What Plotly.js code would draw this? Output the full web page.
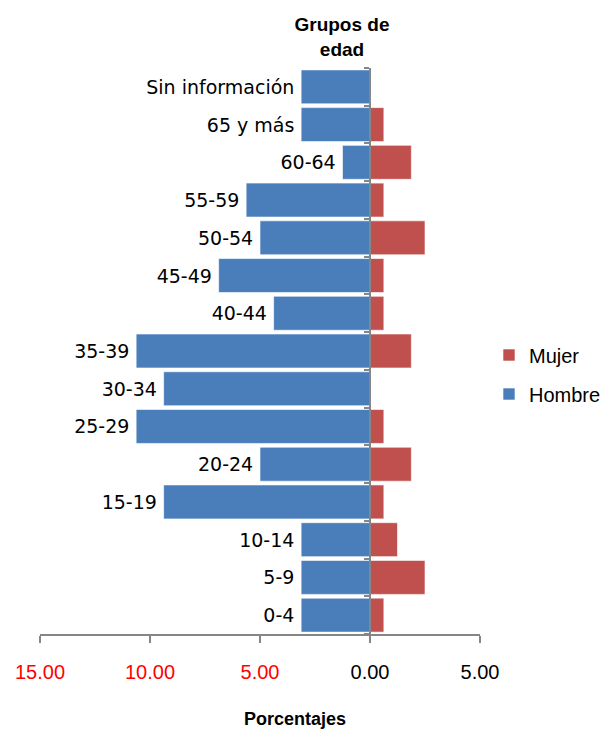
<!DOCTYPE html>
<html>
<head>
<meta charset="utf-8">
<script src="https://cdn.plot.ly/plotly-3.0.1.min.js"></script>
<style>
  html, body { margin: 0; padding: 0; background: #ffffff; }
  #chart { width: 604px; height: 730px; }
</style>
</head>
<body>
<div id="chart"></div>
<script>
// Age groups, bottom to top
const categories = ['0-4', '5-9', '10-14', '15-19', '20-24', '25-29', '30-34', '35-39',
                    '40-44', '45-49', '50-54', '55-59', '60-64', '65 y más', 'Sin información'];
// Percent of total (Hombre drawn to the left)
const hombre = [3.13, 3.13, 3.13, 9.38, 5.00, 10.63, 9.38, 10.63, 4.38, 6.88, 5.00, 5.63, 1.25, 3.13, 3.13];
const mujer  = [0.63, 2.50, 1.25, 0.63, 1.88, 0.63, 0.00, 1.88, 0.63, 0.63, 2.50, 0.63, 1.88, 0.63, 0.00];
const xTickVals = [-15, -10, -5, 0, 5];
const xTickLabels = ['15.00', '10.00', '5.00', '0.00', '5.00'];

const FONT = 'Liberation Sans, Arial, sans-serif';
const LABEL_FONT = 'DejaVu Sans, Verdana, sans-serif';
const BOLD_FONT = 'Liberation Sans, Arial, sans-serif';

const traces = [
  {
    type: 'bar', orientation: 'h', name: 'Hombre', legendgroup: 'h', legendrank: 2,
    y: categories, x: hombre.map(v => -v),
    marker: { color: '#4A7EBB', line: { color: '#ffffff', width: 0.6 } },
    text: categories.map(c => c + '\u2009'), textposition: 'outside', constraintext: 'none', cliponaxis: false,
    textfont: { family: LABEL_FONT, size: 19, color: '#000000' },
    hoverinfo: 'skip'
  },
  {
    type: 'bar', orientation: 'h', name: 'Mujer', legendgroup: 'm', legendrank: 1,
    y: categories, x: mujer,
    marker: { color: '#C0504D', line: { color: '#ffffff', width: 0.6 } },
    hoverinfo: 'skip'
  }
];

const layout = {
  width: 604, height: 730,
  paper_bgcolor: '#ffffff', plot_bgcolor: '#ffffff',
  margin: { l: 40, r: 124, t: 68, b: 96, autoexpand: false },
  font: { family: FONT, size: 20, color: '#000000' },
  barmode: 'relative', bargap: 0.1,
  showlegend: true,
  legend: {
    xref: 'container', x: 489 / 604, xanchor: 'left',
    yref: 'container', y: 1 - 374.5 / 730, yanchor: 'middle',
    traceorder: 'grouped', tracegroupgap: 10, itemwidth: 30,
    font: { family: FONT, size: 20, color: '#000000' },
    bgcolor: 'rgba(0,0,0,0)'
  },
  title: {
    text: '<b>Grupos de<br>edad</b>',
    font: { family: BOLD_FONT, size: 19, color: '#000000' },
    xref: 'container', x: 342 / 604, xanchor: 'center',
    yref: 'container', y: 1 - 31 / 730, yanchor: 'top'
  },
  xaxis: {
    range: [-15, 5], domain: [0, 1],
    tickmode: 'array', tickvals: xTickVals,
    ticktext: xTickLabels.map((t, i) => xTickVals[i] < 0 ? '<span style="color:#FF0000">' + t + '</span>' : t),
    tickfont: { family: FONT, size: 20, color: '#000000' },
    showgrid: false, zeroline: false,
    showline: true, linecolor: '#868686', linewidth: 2,
    ticks: 'outside', ticklen: 7, tickwidth: 2, tickcolor: '#868686',
    ticklabelstandoff: 12,
    fixedrange: true
  },
  yaxis: {
    type: 'category', range: [-0.5, 14.5],
    anchor: 'free', position: 0.75,
    showticklabels: false, showgrid: false, zeroline: false,
    showline: true, linecolor: '#868686', linewidth: 2,
    ticks: 'outside', tickson: 'boundaries', ticklen: 5, tickwidth: 2, tickcolor: '#868686',
    fixedrange: true
  },
  annotations: [
    {
      text: '<b>Porcentajes</b>', xref: 'paper', yref: 'paper',
      x: (295 - 40) / 440, y: -(719 - 634) / 566, xanchor: 'center', yanchor: 'middle',
      showarrow: false,
      font: { family: BOLD_FONT, size: 18, color: '#000000' }
    }
  ]
};

Plotly.newPlot('chart', traces, layout, { displayModeBar: false, staticPlot: true });
</script>
</body>
</html>
